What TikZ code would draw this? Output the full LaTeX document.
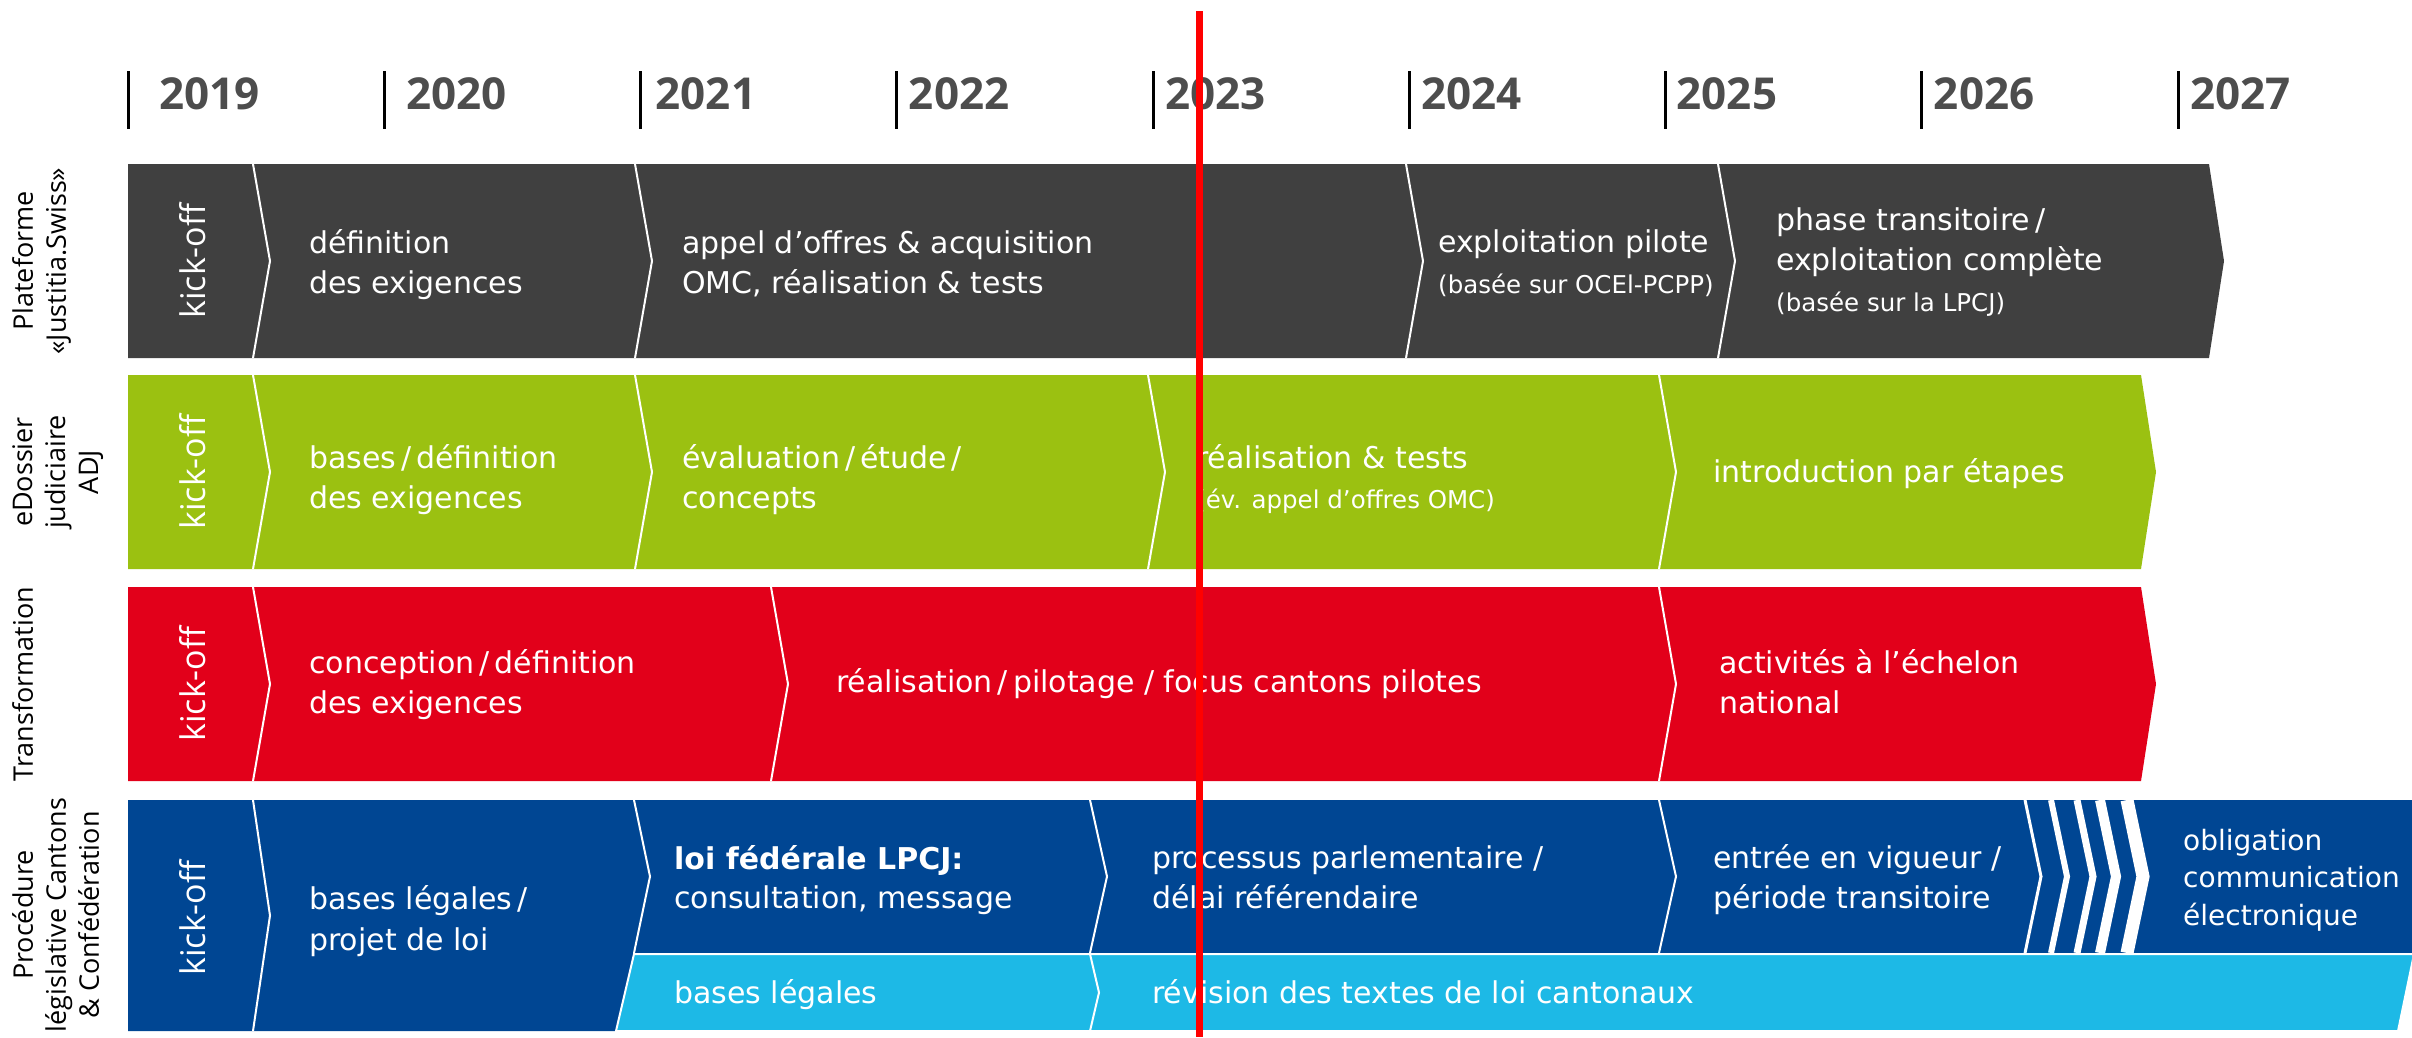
\documentclass[tikz,border=0pt]{standalone}
\usepackage{fontspec}
\setmainfont{DejaVu Sans}
\newfontfamily\labelfont{Open Sans}
\definecolor{jsgray}{RGB}{64,64,64}
\definecolor{jsgreen}{RGB}{155,193,17}
\definecolor{jsred}{RGB}{226,0,26}
\definecolor{jsblue}{RGB}{0,70,147}
\definecolor{jscyan}{RGB}{29,185,230}
\definecolor{yeargray}{RGB}{77,77,77}
% white chevron divider: [width](x:top:bottom:tip)
\def\sepline[#1](#2:#3:#4:#5){\draw[white,line width=#1] (#2,#3) -- ({#2+#5},{(#3+#4)/2}) -- (#2,#4);}
\tikzset{
  year/.style={anchor=base west,inner sep=0,text=yeargray,font=\labelfont\bfseries\fontsize{44}{44}\selectfont},
  rowlabel/.style={rotate=90,anchor=north,align=center,inner sep=0,font=\labelfont\fontsize{27}{33}\selectfont},
  kick/.style={rotate=90,inner sep=0,text=white,font=\labelfont\fontsize{34}{34}\selectfont},
  txt/.style={anchor=base west,inner sep=0,text=white,font=\fontsize{30}{40}\selectfont},
  small/.style={txt,font=\fontsize{24.5}{30}\selectfont},
}

\begin{document}
\begin{tikzpicture}[x=1pt,y=-1pt]
	%%%%% START %%%%%
	\useasboundingbox (0,0) rectangle (2412,1037);
	
	% years
	\foreach \yr/\dx [count=\i from 0] in {2019/31,2020/22,2021/15,2022/12,2023/12,2024/12,2025/11,2026/12,2027/12}{
		\draw[line width=3] ({128+256.25*\i},71) -- ({128+256.25*\i},129);
		\node[year] (y\yr) at ({128+256.25*\i+\dx},109) {\yr};
	}
	
	% row 1
	\fill[jsgray] (128,164) -- (2209,164) -- (2224,261) -- (2209,358) -- (128,358) -- cycle;
	\sepline[2](253:164:358:17)
	\sepline[2](635:164:358:17)
	\sepline[2](1406:164:358:17)
	\sepline[2](1718:164:358:17)
	
	% row 2
	\fill[jsgreen] (128,375) -- (2141,375) -- (2156,472) -- (2141,569) -- (128,569) -- cycle;
	\sepline[2](253:375:569:17)
	\sepline[2](635:375:569:17)
	\sepline[2](1148:375:569:17)
	\sepline[2](1659:375:569:17)
	
	% row 3
	\fill[jsred] (128,587) -- (2141,587) -- (2156,684) -- (2141,781) -- (128,781) -- cycle;
	\sepline[2](253:587:781:17)
	\sepline[2](771:587:781:17)
	\sepline[2](1659:587:781:17)
	
	% row 4
	\fill[jsblue] (128,800) -- (2412,800) -- (2412,953) -- (634,953) -- (616,1031) -- (128,1031) -- cycle;
	\filldraw[fill=jscyan,draw=white,line width=2] (634,954) -- (2414,954) -- (2398,1031) -- (616,1031) -- cycle;
	\sepline[2](253:800:1031:17)
	\sepline[2](634:800:953:16)
	\sepline[2](1090:800:953:17)
	\sepline[2](1659:800:953:17)
	\sepline[3](2025:800:953:16)
	\sepline[6](2051:800:953:16)
	\sepline[7](2077:800:953:16)
	\sepline[10](2100:800:953:16)
	\sepline[13](2127:800:953:16)
	\sepline[2](1090:954:1031:9)
	
	% row labels
	\node[rowlabel] (lab1) at (12,261) {Plateforme\\«Justitia.Swiss»};
	\node[rowlabel] (lab2) at (12,472) {eDossier\\judiciaire\\ADJ};
	\node[rowlabel] (lab3) at (12,684) {Transformation};
	\node[rowlabel] (lab4) at (12,915) {Procédure\\législative Cantons\\\& Confédération};
	
	\node[kick] (k1) at (193,261) {kick-off};
	\node[kick] (k2) at (193,472) {kick-off};
	\node[kick] (k3) at (193,684) {kick-off};
	\node[kick] (k4) at (193,918) {kick-off};
	
	% texts row 1
	\node[txt] (p1a) at (309,253) {définition};
	\node[txt] (p1b) at (309,293) {des exigences};
	\node[txt] (p2a) at (682,253) {appel d'offres \& acquisition};
	\node[txt] (p2b) at (682,293) {OMC, réalisation \& tests};
	\node[txt] (p3a) at (1438,252) {exploitation pilote};
	\node[small] (p3b) at (1438,293) {(basée sur OCEl-PCPP)};
	\node[txt] (p4a) at (1776,230) {phase transitoire\,/};
	\node[txt] (p4b) at (1776,270) {exploitation complète};
	\node[small] (p4c) at (1776,311) {(basée sur la LPCJ)};
	
	% texts row 2
	\node[txt] (e1a) at (309,468) {bases\,/\,définition};
	\node[txt] (e1b) at (309,508) {des exigences};
	\node[txt] (e2a) at (682,468) {évaluation\,/\,étude\,/};
	\node[txt] (e2b) at (682,508) {concepts};
	\node[txt] (e3a) at (1196,468) {réalisation \& tests};
	\node[small] (e3b) at (1196,508) {(év. appel d'offres OMC)};
	\node[txt] (e4a) at (1713,482) {introduction par étapes};
	
	% texts row 3
	\node[txt] (t1a) at (309,673) {conception\,/\,définition};
	\node[txt] (t1b) at (309,713) {des exigences};
	\node[txt] (t2a) at (836,692) {réalisation\,/\,pilotage / focus cantons pilotes};
	\node[txt] (t3a) at (1719,673) {activités à l'échelon};
	\node[txt] (t3b) at (1719,713) {national};
	
	% texts row 4
	\node[txt] (l1a) at (309,909) {bases légales\,/};
	\node[txt] (l1b) at (309,950) {projet de loi};
	\node[txt,font=\bfseries\fontsize{30}{40}\selectfont] (l2a) at (674,869) {loi fédérale LPCJ:};
	\node[txt] (l2b) at (674,908) {consultation, message};
	\node[txt] (l3a) at (1152,868) {processus parlementaire /};
	\node[txt] (l3b) at (1152,908) {délai référendaire};
	\node[txt] (l4a) at (1713,868) {entrée en vigueur /};
	\node[txt] (l4b) at (1713,908) {période transitoire};
	\node[txt,font=\fontsize{28}{37}\selectfont] (l5a) at (2183,850) {obligation};
	\node[txt,font=\fontsize{28}{37}\selectfont] (l5b) at (2183,887) {communication};
	\node[txt,font=\fontsize{28}{37}\selectfont] (l5c) at (2183,925) {électronique};
	\node[txt] (c1a) at (674,1003) {bases légales};
	\node[txt] (c2a) at (1152,1003) {révision des textes de loi cantonaux};
	
	% today
	\draw[red,line width=7] (1199,11) -- (1199,1037);
	%%%%% END %%%%%
\end{tikzpicture}
\end{document}
